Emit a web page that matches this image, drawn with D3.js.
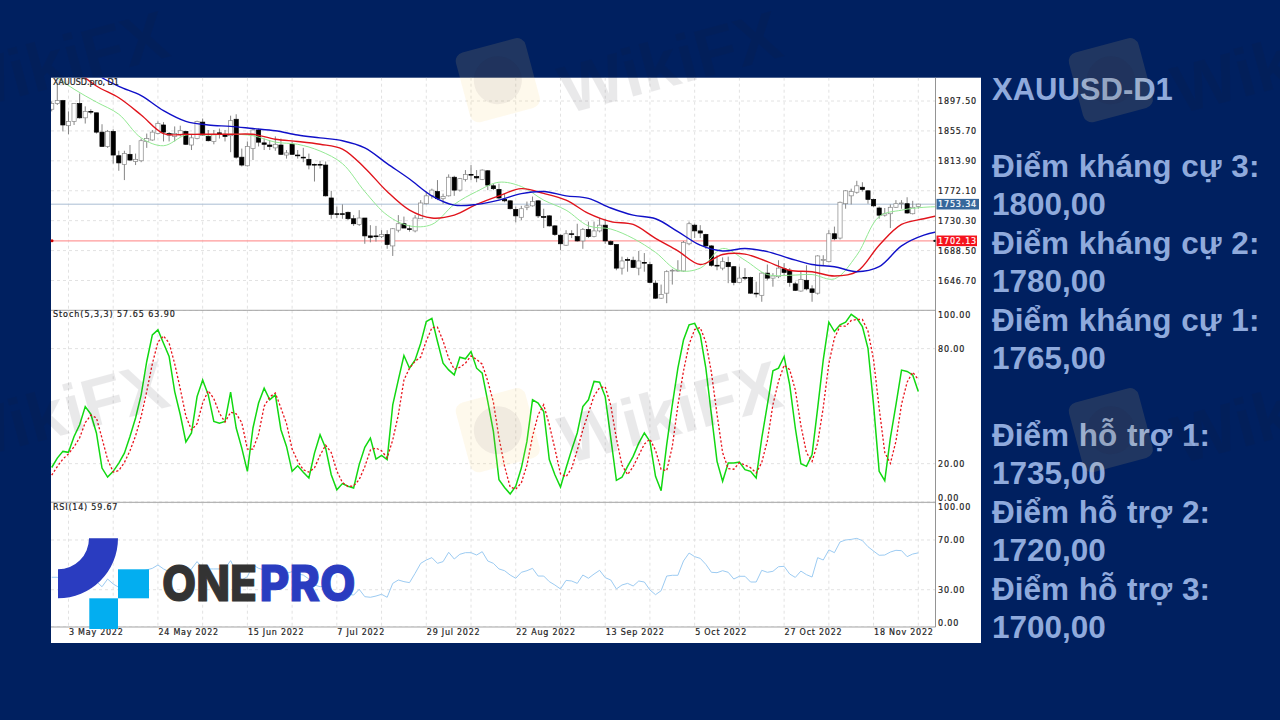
<!DOCTYPE html>
<html>
<head>
<meta charset="utf-8">
<script src="https://d3js.org/d3.v7.min.js"></script>
<style>
  html, body { margin: 0; padding: 0; background: #002060; overflow: hidden; }
</style>
</head>
<body>
<div id="chart"></div>
<script>
// Daily candles
var opens = [1886,1894,1898,1863,1869,1894,1874,1883,1881,1854,
  1834,1855,1821,1809,1823,1813,1814,1841,1843,1852,
  1864,1852,1848,1850,1855,1836,1845,1868,1848,1841,
  1853,1851,1849,1872,1819,1807,1831,1857,1839,1836,
  1832,1836,1822,1837,1822,1819,1816,1809,1809,1808,
  1762,1740,1740,1742,1733,1725,1734,1709,1709,1708,
  1711,1695,1717,1726,1719,1716,1733,1754,1765,1771,
  1761,1765,1791,1773,1788,1795,1792,1788,1800,1779,
  1774,1760,1758,1746,1735,1749,1751,1758,1736,1737,
  1723,1710,1696,1712,1708,1702,1718,1708,1716,1724,
  1701,1697,1664,1676,1675,1664,1672,1669,1643,1622,
  1629,1660,1660,1660,1698,1724,1716,1711,1695,1668,
  1664,1672,1666,1644,1651,1651,1629,1626,1657,1650,
  1652,1663,1661,1642,1632,1647,1635,1629,1675,1673,
  1712,1706,1754,1765,1770,1777,1772,1760,1748,1738,
  1740,1749,1754,1754,1740,1750];
var highs = [1897,1922,1899,1883,1894,1908,1890,1886,1881,1865,
  1857,1858,1828,1828,1836,1824,1845,1852,1857,1869,
  1868,1854,1862,1863,1856,1850,1870,1873,1857,1857,
  1859,1857,1877,1879,1831,1841,1859,1859,1845,1843,
  1848,1845,1829,1841,1829,1832,1824,1810,1814,1813,
  1772,1750,1753,1743,1738,1745,1734,1724,1723,1717,
  1717,1720,1738,1736,1724,1738,1759,1771,1775,1787,
  1768,1795,1793,1790,1801,1808,1801,1802,1801,1782,
  1782,1768,1759,1750,1751,1757,1764,1759,1747,1738,
  1724,1711,1717,1717,1726,1720,1729,1729,1734,1733,
  1703,1697,1680,1679,1680,1688,1685,1673,1647,1641,
  1661,1663,1675,1702,1729,1726,1724,1712,1696,1682,
  1679,1680,1667,1666,1664,1652,1645,1658,1669,1657,
  1675,1671,1664,1645,1659,1668,1640,1682,1682,1717,
  1722,1757,1773,1775,1786,1784,1773,1761,1750,1748,
  1753,1759,1759,1763,1758,1754];
var lows = [1883,1892,1855,1851,1864,1873,1866,1879,1852,1834,
  1832,1810,1800,1787,1814,1808,1812,1832,1842,1851,
  1841,1841,1841,1848,1836,1829,1844,1849,1841,1837,
  1845,1841,1826,1817,1806,1806,1815,1834,1829,1829,
  1828,1822,1817,1822,1817,1812,1802,1785,1803,1764,
  1733,1734,1733,1731,1723,1723,1698,1700,1701,1706,
  1691,1681,1714,1720,1715,1714,1733,1753,1761,1759,
  1754,1764,1765,1771,1785,1787,1784,1787,1773,1773,
  1760,1756,1746,1728,1731,1745,1750,1734,1720,1722,
  1709,1689,1695,1706,1701,1691,1706,1707,1714,1698,
  1696,1661,1655,1659,1664,1654,1659,1643,1621,1621,
  1615,1641,1659,1659,1696,1706,1706,1691,1666,1661,
  1661,1643,1640,1643,1647,1628,1623,1617,1647,1638,
  1650,1654,1638,1632,1631,1633,1617,1627,1668,1672,
  1703,1704,1747,1753,1768,1771,1754,1749,1733,1736,
  1720,1748,1747,1740,1739,1747];
var closes = [1894,1898,1864,1869,1894,1874,1883,1882,1854,1834,
  1855,1822,1811,1824,1815,1816,1842,1845,1854,1866,
  1854,1850,1852,1856,1837,1846,1869,1850,1842,1851,
  1851,1848,1870,1819,1808,1834,1857,1840,1837,1834,
  1837,1823,1825,1823,1821,1818,1808,1808,1808,1765,
  1739,1739,1739,1733,1726,1734,1709,1707,1708,1711,
  1697,1719,1726,1720,1718,1734,1755,1765,1773,1761,
  1764,1791,1773,1789,1795,1794,1790,1801,1780,1775,
  1762,1758,1747,1737,1747,1751,1757,1737,1735,1723,
  1711,1698,1712,1711,1702,1718,1708,1716,1724,1702,
  1697,1664,1674,1675,1665,1674,1671,1644,1622,1627,
  1659,1661,1661,1700,1726,1716,1713,1695,1668,1667,
  1673,1666,1644,1650,1650,1629,1628,1657,1650,1653,
  1664,1658,1644,1633,1648,1635,1630,1681,1676,1712,
  1705,1756,1772,1771,1779,1774,1760,1751,1738,1740,
  1749,1754,1755,1741,1749,1753.34];

// Shifted moving averages, one reading every four candles
var maIndex = [0,4,8,12,16,20,24,28,32,36,40,44,48,52,56,60,64,68,72,76,80,84,
  88,92,96,100,104,108,112,116,120,124,128,132,136,140,144,148,152,156,160];
var maBlue = [1990,1962,1935,1918,1905,1884,1869,1864,1862,1859,1856,1850,1846,1842,1832,1810,1788.5,1765,1752,1753,1759,1768,
  1771,1765,1761.4,1748,1738,1733,1715,1696,1688,1691.5,1687,1677.5,1669,1666,1659,1666,1695,1710,1717];
var maRed = [1976,1943,1918.5,1902,1878,1852,1851,1851,1851,1851,1844,1841,1837,1830.4,1804,1771,1745,1734,1738,1753,1765,1775,
  1768.4,1759,1740.5,1729,1725,1705.5,1688,1669,1683,1683.6,1673,1661,1659,1653,1659,1696,1725,1733,1740];
var maGreen = [1936,1914,1896,1879,1846,1835,1850,1850,1851,1849,1840,1837,1827.6,1810,1771,1738,1723,1725,1753,1771,1784,1778,
  1759,1745,1723,1718.6,1705.5,1686,1661,1664,1691.5,1675,1655,1654,1655,1649,1682,1736,1745,1749,1750];

var stochMain = [18.0,22.9,26.4,25.9,34.2,40.3,49.8,45.8,36.0,17.7,
  13.0,16.0,20.3,25.5,34.2,43.8,55.9,73.3,87.2,89.8,
  82.8,75.9,57.6,45.5,31.3,36.0,55.0,63.7,55.9,42.0,
  41.1,42.0,57.3,38.6,28.1,16.0,38.6,51.6,59.4,53.3,
  55.9,37.7,29.0,16.0,18.9,15.5,12.5,25.5,35.1,28.1,
  14.2,6.4,9.6,8.2,7.3,19.5,28.5,33.3,22.4,24.3,
  22.1,50.7,63.7,76.4,69.8,74.1,82.8,94.1,95.8,83.7,
  72.4,68.9,66.3,75.5,74.7,78.5,69.8,67.2,52.4,36.8,
  11.6,7.6,4.2,8.2,17.7,31.6,53.3,51.6,47.2,22.1,
  14.2,7.8,17.7,27.3,36.0,49.8,53.3,62.9,62.5,55.0,
  33.3,11.3,12.9,18.6,23.8,30.7,36.0,31.6,13.4,5.9,
  29.9,50.7,69.8,84.5,92.4,93.2,87.2,69.8,45.5,21.2,
  10.8,20.3,20.3,20.8,16.9,16.0,12.5,33.3,50.7,68.4,
  69.8,75.9,61.1,38.6,20.0,18.6,24.7,49.0,74.1,93.8,
  88.9,92.4,93.8,97.9,95.8,91.5,80.2,50.7,16.0,11.1,
  33.3,50.7,68.8,68.1,66.3,57.65];
var stochSignal = [14.0,18.5,22.4,25.1,28.8,33.5,41.4,45.3,43.9,33.2,
  22.2,15.6,16.4,20.6,26.7,34.5,44.6,57.7,72.1,83.4,
  86.6,82.9,72.1,59.0,44.8,37.6,40.8,51.6,58.1,53.9,
  46.3,41.7,46.8,46.0,41.4,27.6,27.6,35.4,49.9,54.8,
  56.9,49.0,40.9,27.6,21.3,16.8,15.6,17.8,24.4,29.6,
  25.8,16.2,10.1,8.1,8.4,11.7,18.4,27.1,28.1,26.7,
  23.0,32.4,45.5,63.6,69.9,73.4,75.6,84.0,90.9,91.2,
  84.0,75.0,69.2,70.3,72.4,76.2,74.4,71.9,63.0,52.1,
  33.6,18.6,7.8,6.7,10.0,19.2,34.2,45.5,50.7,40.3,
  27.8,14.7,13.2,17.6,27.0,37.7,46.4,55.3,59.6,60.1,
  50.3,33.2,19.2,14.3,18.4,24.4,30.2,32.8,27.0,17.0,
  16.4,28.9,50.5,68.3,82.2,90.0,91.0,83.4,67.5,45.7,
  25.8,17.4,17.1,20.5,19.3,17.9,15.1,20.6,32.0,50.8,
  63.0,71.4,69.0,58.5,39.9,25.7,21.2,30.8,49.3,72.2,
  85.6,91.7,91.7,94.7,95.2,95.2,89.2,74.1,49.0,25.9,
  20.1,31.7,51.0,62.5,67.7,63.9];

var rsi = [40,40,36.5,39,41.8,43.7,47.2,44.5,36.5,32.4,
  38.6,34.6,31.9,36.5,37.8,36.5,44.5,45.9,47.2,49.9,
  46.7,44.5,47.2,44.5,41.8,46.7,52.6,47.2,46.7,46.7,
  46.7,47.2,53.4,44.5,37.8,40.5,49.9,47.2,45.9,45.9,
  46.4,43.7,43.2,44.5,42.6,41.8,38.6,33.8,32.4,33,
  25.7,25.7,27,26.3,25.7,30.3,24.4,23.9,24.9,26.3,
  23.9,35.1,37.8,36.5,35.7,43.2,51.2,53.9,55.8,51.2,
  52.6,60.1,54.7,58.5,59.8,59.8,57.9,60.6,53.1,51.2,
  46.7,45.3,41.8,39.2,44,45.3,47.2,41,41,36.5,
  33.8,30.6,37.5,37,35.1,41.8,39.2,42.6,45.6,39.7,
  37.8,30.6,33.8,35.1,33,37,36.2,29.8,26,29.2,
  41,41.6,41.6,53.1,59.5,56.6,55.2,50.4,44,43.7,
  45.3,44,38.6,40.8,40.8,36.2,36.2,45.6,44,44.8,
  48.5,48.8,42.6,39.9,45,42.1,40.2,55.8,53.9,62,
  59.8,68.4,70,70.5,71.3,69.5,64.6,61.1,57.7,57.9,
  60.3,61.7,61.4,56.6,58.7,59.67];

var priceTicks = [1897.5,1855.7,1813.9,1772.1,1730.3,1688.5,1646.7];
var stochTicks = [100,80,20,0];
var rsiTicks = [100,70,30,0];
var gridCandles = d3.range(3, 156, 8);
var dateCandles = [3,19,35,51,67,83,99,115,131,147];
var dateLabels = ["3 May 2022","24 May 2022","15 Jun 2022","7 Jul 2022","29 Jul 2022",
  "22 Aug 2022","13 Sep 2022","5 Oct 2022","27 Oct 2022","18 Nov 2022"];
var currentPrice = 1753.34, markedPrice = 1702.13;

var sideLines = ["XAUUSD-D1", null, "Điểm kháng cự 3:", "1800,00", "Điểm kháng cự 2:", "1780,00",
  "Điểm kháng cự 1:", "1765,00", null, "Điểm hỗ trợ 1:", "1735,00", "Điểm hỗ trợ 2:", "1720,00",
  "Điểm hỗ trợ 3:", "1700,00"];

var svg = d3.select("#chart").append("svg")
    .attr("width", 1280)
    .attr("height", 720)
    .style("display", "block");

var axisFont = "'DejaVu Sans', sans-serif";
var left = 51, right = 935.5, panelRight = 981;

// small chart text, slightly heavier than the regular weight
function smallText(sel, spacing) {
  sel.attr("fill", "#222")
      .attr("stroke", "#222")
      .attr("stroke-width", 0.2)
      .style("font-family", axisFont)
      .style("font-size", "8px")
      .style("letter-spacing", spacing + "px");
}

svg.append("rect").attr("width", 1280).attr("height", 720).attr("fill", "#002060");
svg.append("rect").attr("x", left).attr("y", 77.7)
    .attr("width", panelRight - left).attr("height", 565.3).attr("fill", "#fff");

// scales, one y per pane
var x = d3.scaleLinear().domain([0, 155]).range([51.7, 918.3]);
var yPrice = d3.scaleLinear().domain([1646.7, 1897.5]).range([280.5, 101]);
var yStoch = d3.scaleLinear().domain([0, 100]).range([502, 310.3]);
var yRsi = d3.scaleLinear().domain([0, 100]).range([627, 502.7]);

var panes = [
  { id: "main", y: yPrice, top: 77.7, bottom: 310.3, ticks: priceTicks, fmt: d3.format(".2f") },
  { id: "stoch", y: yStoch, top: 310.3, bottom: 502, ticks: stochTicks, fmt: d3.format(".2f") },
  { id: "rsi", y: yRsi, top: 502.7, bottom: 627, ticks: rsiTicks, fmt: d3.format(".2f") }
];

var defs = svg.append("defs");
panes.forEach(function(p) {
  defs.append("clipPath").attr("id", "clip-" + p.id).append("rect")
      .attr("x", left).attr("y", p.top)
      .attr("width", right - left).attr("height", p.bottom - p.top);

  // dashed grid
  var g = svg.append("g").attr("clip-path", "url(#clip-" + p.id + ")");
  g.selectAll("line.v").data(gridCandles).enter().append("line")
      .attr("x1", function(d) { return x(d); })
      .attr("x2", function(d) { return x(d); })
      .attr("y1", p.top).attr("y2", p.bottom)
      .attr("stroke", "#e2e2e2").attr("stroke-dasharray", "3,3");
  g.selectAll("line.h").data(p.ticks).enter().append("line")
      .attr("x1", left).attr("x2", right)
      .attr("y1", function(d) { return p.y(d); })
      .attr("y2", function(d) { return p.y(d); })
      .attr("stroke", "#e2e2e2").attr("stroke-dasharray", "3,3");

  // right axis
  var axis = svg.append("g")
      .attr("transform", "translate(" + right + ",0)")
      .call(d3.axisRight(p.y).tickValues(p.ticks).tickFormat(p.fmt).tickSize(0).tickPadding(2.5));
  axis.select(".domain").remove();
  axis.selectAll("text")
      .call(smallText, 0.85)
      .attr("dy", function(d) { return d === 100 ? "0.85em" : d === 0 ? "-0.15em" : "0.35em"; });
});

var mainPane = svg.append("g").attr("clip-path", "url(#clip-main)");

// level lines
mainPane.append("line")
    .attr("x1", left).attr("x2", right)
    .attr("y1", yPrice(currentPrice)).attr("y2", yPrice(currentPrice))
    .attr("stroke", "#a9bdd3").attr("stroke-width", 1);
mainPane.append("line")
    .attr("x1", left).attr("x2", right)
    .attr("y1", yPrice(markedPrice)).attr("y2", yPrice(markedPrice))
    .attr("stroke", "#ff9a9a").attr("stroke-width", 1.2);

// candles
var candle = mainPane.selectAll("g.candle")
  .data(closes)
  .enter()
  .append("g")
    .attr("class", "candle");

candle.append("line")
    .attr("x1", function(d, i) { return x(i); })
    .attr("x2", function(d, i) { return x(i); })
    .attr("y1", function(d, i) { return yPrice(highs[i]); })
    .attr("y2", function(d, i) { return yPrice(lows[i]); })
    .attr("stroke", "#777")
    .attr("stroke-width", 0.9);

candle.append("rect")
    .attr("x", function(d, i) { return x(i) - 2.1; })
    .attr("width", 4.2)
    .attr("y", function(d, i) { return yPrice(Math.max(opens[i], d)); })
    .attr("height", function(d, i) { return Math.max(0.8, Math.abs(yPrice(opens[i]) - yPrice(d))); })
    .attr("fill", function(d, i) { return d >= opens[i] ? "#fff" : "#000"; })
    .attr("stroke", function(d, i) { return d >= opens[i] ? "#888" : "#000"; })
    .attr("stroke-width", 0.7);

// moving averages
function maLine(values, color, w) {
  var line = d3.line()
      .x(function(d, i) { return x(maIndex[i]); })
      .y(function(d) { return yPrice(d); })
      .curve(d3.curveCatmullRom.alpha(0.5));
  mainPane.append("path").datum(values)
      .attr("fill", "none").attr("stroke", color).attr("stroke-width", w).attr("d", line);
}
maLine(maGreen, "#93e893", 1);
maLine(maRed, "#e0141c", 1.4);
maLine(maBlue, "#1010c8", 1.4);

// oscillators
function indicatorLine(pane, values, y, color, w, dash) {
  var line = d3.line()
      .x(function(d, i) { return x(i); })
      .y(function(d) { return y(d); });
  pane.append("path").datum(values)
      .attr("fill", "none").attr("stroke", color).attr("stroke-width", w)
      .attr("stroke-dasharray", dash).attr("d", line);
}
var stochPane = svg.append("g").attr("clip-path", "url(#clip-stoch)");
indicatorLine(stochPane, stochMain, yStoch, "#12d812", 1.5, null);
indicatorLine(stochPane, stochSignal, yStoch, "#e8141c", 1.3, "2.2,2");
var rsiPane = svg.append("g").attr("clip-path", "url(#clip-rsi)");
indicatorLine(rsiPane, rsi, yRsi, "#9ccbf2", 1, null);

// pane borders
[310.3, 502.3, 627].forEach(function(yy) {
  svg.append("line").attr("x1", left).attr("x2", right).attr("y1", yy).attr("y2", yy)
      .attr("stroke", "#999").attr("stroke-width", 0.9);
});
svg.append("line").attr("x1", right).attr("x2", right).attr("y1", 77.7).attr("y2", 627)
    .attr("stroke", "#888").attr("stroke-width", 0.9);

// date axis
var xAxis = svg.append("g")
    .attr("transform", "translate(0,627)")
    .call(d3.axisBottom(x).tickValues(dateCandles)
      .tickFormat(function(d, i) { return dateLabels[i]; }).tickSize(0).tickPadding(2));
xAxis.select(".domain").remove();
xAxis.selectAll("text")
    .call(smallText, 0.75)
    .attr("text-anchor", "start");

// price tags
function priceTag(price, fill, w) {
  var yy = yPrice(price);
  svg.append("rect").attr("x", 936.5).attr("y", yy - 5.3).attr("width", w).attr("height", 10.6).attr("fill", fill);
  svg.append("text").attr("x", 938).attr("y", yy + 3)
      .call(smallText, 0.85)
      .attr("fill", "#fff").attr("stroke", "#fff")
      .text(d3.format(".2f")(price));
}
priceTag(currentPrice, "#37689c", 42.5);
priceTag(markedPrice, "#f5141e", 40.5);
svg.append("circle").attr("cx", 52).attr("cy", yPrice(markedPrice)).attr("r", 1.5).attr("fill", "#c00");
svg.append("circle").attr("cx", 934.5).attr("cy", yPrice(markedPrice)).attr("r", 1.2).attr("fill", "#111");

// pane captions
[["XAUUSD.pro, D1", 85, 0], ["Stoch(5,3,3) 57.65 63.90", 317, 0.95], ["RSI(14) 59.67", 509.8, 0.8]].forEach(function(c) {
  svg.append("text").attr("x", 53).attr("y", c[1])
      .call(smallText, c[2])
      .text(c[0]);
});

// OnePro logo
var logo = svg.append("g");
logo.append("path")
    .attr("transform", "translate(58,538.3)")
    .attr("d", d3.arc()({ innerRadius: 31, outerRadius: 60, startAngle: Math.PI / 2, endAngle: Math.PI }))
    .attr("fill", "#2a3cc0");
logo.append("rect").attr("x", 118).attr("y", 569.3).attr("width", 31).attr("height", 29).attr("fill", "#03aef0");
logo.append("rect").attr("x", 89.3).attr("y", 598.3).attr("width", 28.7).attr("height", 30.7).attr("fill", "#03aef0");
logo.append("text").attr("x", 162).attr("y", 601)
    .attr("textLength", 95).attr("lengthAdjust", "spacingAndGlyphs")
    .attr("fill", "#333").attr("stroke", "#333").attr("stroke-width", 1.1)
    .style("font-family", "Inter, sans-serif").style("font-weight", 800).style("font-size", "49px")
    .text("ONE");
logo.append("text").attr("x", 259.5).attr("y", 601)
    .attr("textLength", 96).attr("lengthAdjust", "spacingAndGlyphs")
    .attr("fill", "#2a3cc0").attr("stroke", "#2a3cc0").attr("stroke-width", 1.1)
    .style("font-family", "Inter, sans-serif").style("font-weight", 800).style("font-size", "49px")
    .text("PRO");

// side text
svg.append("g").selectAll("text")
  .data(sideLines)
  .enter()
  .append("text")
    .attr("x", 992)
    .attr("y", function(d, i) { return 100 + 38.44 * i; })
    .attr("fill", "#8faadc")
    .style("font-family", "'Liberation Sans', Arial, sans-serif")
    .style("font-weight", 700)
    .style("font-size", function(d, i) { return i === 0 ? "31px" : "31.5px"; })
    .style("word-spacing", "1px")
    .text(function(d) { return d; });

// WikiFX watermark, repeated
var marks = [];
[57, 670, 1283].forEach(function(cx) {
  [62, 412].forEach(function(cy) { marks.push([cx, cy]); });
});
var mark = svg.append("g").attr("pointer-events", "none").selectAll("g")
  .data(marks)
  .enter()
  .append("g")
    .attr("transform", function(d) { return "translate(" + d[0] + "," + d[1] + ") rotate(-15)"; });
mark.append("text")
    .attr("text-anchor", "middle")
    .attr("dy", "0.35em")
    .attr("fill", "rgb(30,25,40)")
    .attr("opacity", 0.09)
    .style("font-family", "'Liberation Sans', Arial, sans-serif")
    .style("font-weight", 700)
    .style("font-size", "68px")
    .text("WikiFX");
mark.append("rect")
    .attr("x", -207).attr("y", -63).attr("width", 72).attr("height", 72).attr("rx", 9)
    .attr("fill", "rgb(250,205,110)").attr("opacity", 0.13);
mark.append("circle")
    .attr("cx", -171).attr("cy", -27).attr("r", 24)
    .attr("fill", "rgb(30,25,40)").attr("opacity", 0.06);
</script>
</body>
</html>
